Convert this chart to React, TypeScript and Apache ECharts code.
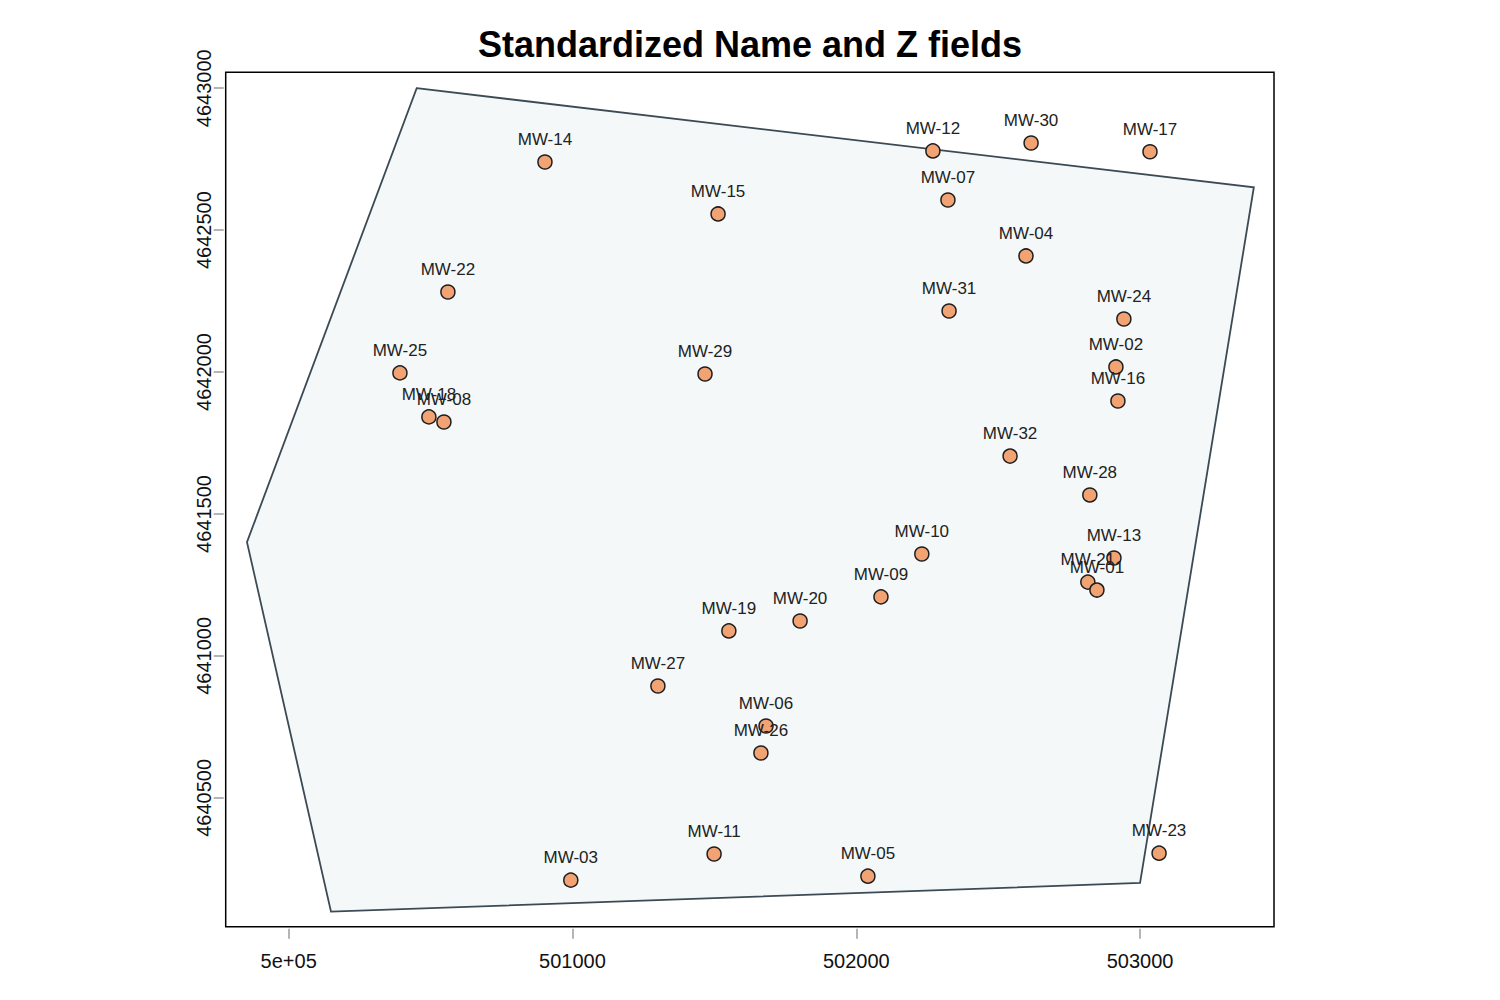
import React, { useEffect, useRef } from "react";
import * as echarts from "echarts";

const wellNames = [
  "MW-14", "MW-15", "MW-12", "MW-30", "MW-17", "MW-07", "MW-04", "MW-22",
  "MW-31", "MW-24", "MW-25", "MW-29", "MW-02", "MW-16", "MW-18", "MW-08",
  "MW-32", "MW-28", "MW-10", "MW-13", "MW-21", "MW-01", "MW-09", "MW-20",
  "MW-19", "MW-27", "MW-06", "MW-26", "MW-11", "MW-03", "MW-05", "MW-23",
];
const wellX = [
  500903, 501513, 502270, 502616, 503035, 502323, 502598, 500561,
  502327, 502943, 500392, 501467, 502915, 502922, 500494, 500547,
  502542, 502823, 502231, 502908, 502816, 502848, 502087, 501802,
  501551, 501301, 501682, 501664, 501499, 500994, 502041, 503067,
];
const wellY = [
  4642740, 4642557, 4642779, 4642807, 4642776, 4642606, 4642409, 4642282,
  4642215, 4642187, 4641997, 4641993, 4642018, 4641898, 4641842, 4641824,
  4641704, 4641567, 4641359, 4641345, 4641260, 4641232, 4641208, 4641123,
  4641088, 4640894, 4640753, 4640658, 4640302, 4640210, 4640224, 4640305,
];
const hullX = [500451, 503401, 503000, 500149, 499853];
const hullY = [4643000, 4642651, 4640200, 4640099, 4641401];

const xTicks = [500000, 501000, 502000, 503000];
const yTicks = [4640500, 4641000, 4641500, 4642000, 4642500, 4643000];

export default function App() {
  const ref = useRef<HTMLDivElement>(null);
  useEffect(() => {
    if (!ref.current) return;
    const chart = echarts.init(ref.current, null, { renderer: "svg" });
    const font = "Liberation Sans, Helvetica, Arial, sans-serif";
    const points = wellNames.map((n, i) => ({ name: n, value: [wellX[i], wellY[i]] }));
    const hull = hullX.map((x, i) => [x, hullY[i]]);
    chart.setOption({
      animation: false,
      backgroundColor: "#ffffff",
      title: {
        text: "Standardized Name and Z fields",
        left: "center",
        top: 21,
        textStyle: { fontFamily: font, fontSize: 36, fontWeight: "bold", color: "#000" },
      },
      grid: {
        left: 225.7,
        top: 72.3,
        width: 1048.3,
        height: 854.4,
        show: true,
        borderColor: "#000",
        borderWidth: 1.5,
        backgroundColor: "transparent",
      },
      xAxis: {
        type: "value",
        min: 499778,
        max: 503472,
        offset: 2,
        splitLine: { show: false },
        axisLine: { show: false },
        axisTick: { show: true, length: 10, customValues: xTicks, lineStyle: { color: "#b5b5b5", width: 2 } },
        axisLabel: {
          customValues: xTicks,
          margin: 22,
          fontFamily: font,
          fontSize: 20,
          color: "#111",
          formatter: (v: number) => (v === 500000 ? "5e+05" : String(v)),
        },
      },
      yAxis: {
        type: "value",
        min: 4640046,
        max: 4643056,
        offset: 2,
        splitLine: { show: false },
        axisLine: { show: false },
        axisTick: { show: true, length: 10, customValues: yTicks, lineStyle: { color: "#b5b5b5", width: 2 } },
        axisLabel: {
          customValues: yTicks,
          rotate: 90,
          margin: 10,
          fontFamily: font,
          fontSize: 20,
          color: "#111",
          formatter: (v: number) => String(v),
        },
      },
      series: [
        {
          type: "custom",
          silent: true,
          data: hull,
          renderItem: (params: any, api: any) => {
            if (params.dataIndex !== 0) return null;
            const pts = hull.map((p) => api.coord(p));
            return {
              type: "polygon",
              shape: { points: pts },
              style: { fill: "#f4f8f9", stroke: "#3b4a54", lineWidth: 1.8 },
            };
          },
          z: 1,
        },
        {
          type: "scatter",
          data: points,
          symbol: "circle",
          symbolSize: 14,
          itemStyle: { color: "#f2a373", borderColor: "#1e1e1e", borderWidth: 1.5, opacity: 1 },
          label: {
            show: true,
            position: "top",
            distance: 6,
            formatter: (p: any) => p.name,
            fontFamily: font,
            fontSize: 17,
            color: "#222",
          },
          labelLayout: { hideOverlap: false },
          z: 3,
        },
      ],
    });
    return () => chart.dispose();
  }, []);
  return (
    <div
      ref={ref}
      style={{ position: "fixed", left: 0, top: 0, width: 1500, height: 1000 }}
    />
  );
}
